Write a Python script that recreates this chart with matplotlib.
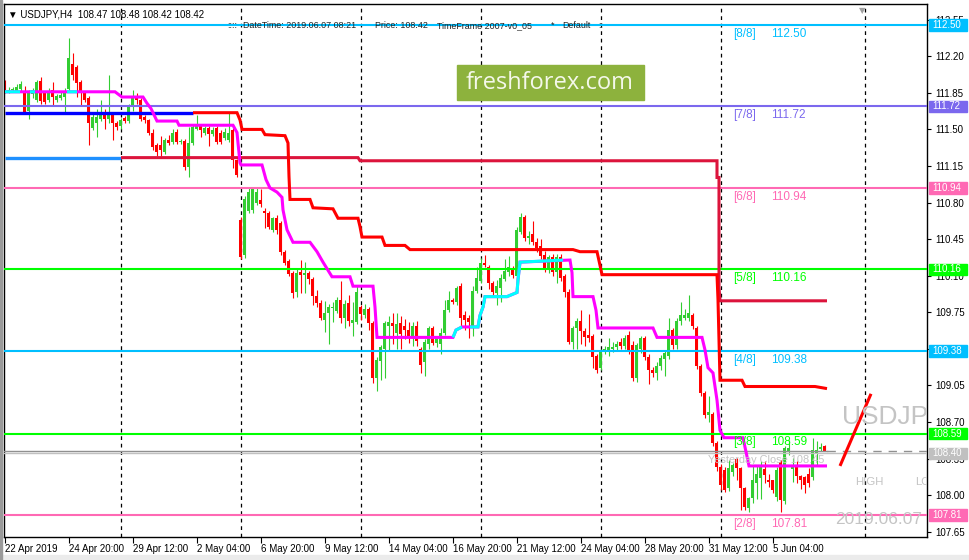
import matplotlib
matplotlib.use("Agg")
import matplotlib.pyplot as plt
from matplotlib.patches import Rectangle
import numpy as np

# USDJPY H4 bars, index 0 = 22 Apr 2019
opens = [111.95, 111.86, 111.88, 111.87, 111.89, 111.86, 111.68, 111.84, 111.78, 111.96,
         111.85, 111.78, 111.88, 111.78, 111.80, 111.81, 111.89, 112.13, 112.10, 111.95,
         111.85, 111.80, 111.51, 111.56, 111.60, 111.67, 111.60, 111.64, 111.56, 111.53,
         111.61, 111.58, 111.71, 111.80, 111.78, 111.62, 111.59, 111.47, 111.35, 111.35,
         111.28, 111.40, 111.38, 111.48, 111.38, 111.39, 111.14, 111.37, 111.50, 111.53,
         111.47, 111.51, 111.46, 111.51, 111.47, 111.42, 111.40, 111.49, 111.21, 110.63,
         110.30, 110.72, 110.73, 110.80, 110.82, 110.72, 110.70, 110.54, 110.65, 110.60,
         110.33, 110.24, 110.13, 109.94, 110.14, 110.11, 110.13, 110.07, 109.91, 109.84,
         109.68, 109.74, 109.79, 109.76, 109.87, 109.70, 109.84, 109.65, 109.66, 109.80,
         109.72, 109.78, 109.65, 109.12, 109.28, 109.40, 109.62, 109.65, 109.55, 109.65,
         109.62, 109.58, 109.52, 109.62, 109.40, 109.27, 109.45, 109.60, 109.46, 109.45,
         109.55, 109.77, 109.87, 109.85, 110.00, 109.72, 109.70, 109.62, 109.95, 110.05,
         110.22, 110.18, 110.03, 109.93, 109.98, 110.07, 110.14, 110.17, 110.10, 110.52,
         110.66, 110.46, 110.50, 110.42, 110.38, 110.30, 110.16, 110.28, 110.14, 110.28,
         110.10, 109.94, 109.47, 109.60, 109.67, 109.57, 109.53, 109.52, 109.33, 109.22,
         109.38, 109.39, 109.40, 109.42, 109.47, 109.43, 109.53, 109.44, 109.12, 109.40,
         109.50, 109.32, 109.20, 109.17, 109.24, 109.30, 109.33, 109.58, 109.44, 109.67,
         109.70, 109.70, 109.72, 109.60, 109.24, 108.98, 108.77, 108.78, 108.50, 108.27,
         108.24, 108.07, 108.22, 108.35, 108.26, 108.07, 107.88, 107.97, 108.12, 108.16,
         108.25, 108.15, 108.15, 107.98, 108.32, 107.94, 108.41, 108.25, 108.27, 108.18,
         108.17, 108.20, 108.17, 108.40, 108.44, 108.47]
highs = [111.97, 111.91, 111.91, 111.93, 111.96, 111.92, 111.88, 111.90, 111.97, 112.00,
         111.86, 111.90, 111.95, 111.84, 111.86, 111.90, 112.37, 112.23, 112.12, 111.97,
         111.87, 111.82, 111.65, 111.70, 111.78, 111.70, 112.02, 111.66, 111.58, 111.61,
         111.63, 111.74, 111.88, 111.85, 111.80, 111.64, 111.60, 111.50, 111.37, 111.44,
         111.42, 111.45, 111.50, 111.50, 111.41, 111.41, 111.52, 111.54, 111.64, 111.55,
         111.53, 111.53, 111.52, 111.53, 111.49, 111.51, 111.67, 111.51, 111.22, 110.66,
         110.86, 110.94, 110.95, 110.95, 110.93, 110.75, 110.72, 110.66, 110.68, 110.62,
         110.35, 110.26, 110.15, 110.16, 110.25, 110.23, 110.15, 110.09, 109.96, 109.87,
         109.86, 109.83, 109.85, 109.90, 110.05, 109.87, 109.92, 109.85, 110.01, 109.82,
         109.83, 109.80, 109.67, 109.32, 109.44, 109.67, 109.71, 109.74, 109.74, 109.71,
         109.69, 109.66, 109.66, 109.67, 109.42, 109.49, 109.62, 109.62, 109.52, 109.60,
         109.87, 109.95, 109.89, 110.00, 110.03, 109.76, 109.72, 110.00, 110.18, 110.27,
         110.30, 110.20, 110.05, 110.06, 110.12, 110.26, 110.29, 110.19, 110.57, 110.70,
         110.68, 110.53, 110.62, 110.46, 110.45, 110.34, 110.30, 110.31, 110.31, 110.31,
         110.12, 109.97, 109.62, 109.70, 109.77, 109.60, 109.73, 109.54, 109.35, 109.40,
         109.43, 109.50, 109.47, 109.48, 109.50, 109.53, 109.57, 109.48, 109.46, 109.52,
         109.52, 109.35, 109.23, 109.27, 109.34, 109.38, 109.70, 109.60, 109.70, 109.85,
         109.78, 109.92, 109.74, 109.62, 109.26, 109.00, 108.95, 108.80, 108.52, 108.30,
         108.27, 108.34, 108.31, 108.36, 108.27, 108.08, 107.98, 108.28, 108.28, 108.33,
         108.33, 108.20, 108.15, 108.27, 108.34, 108.47, 108.53, 108.36, 108.33, 108.19,
         108.18, 108.26, 108.55, 108.52, 108.50, 108.48]
lows = [111.85, 111.85, 111.86, 111.86, 111.87, 111.65, 111.60, 111.80, 111.76, 111.74,
        111.74, 111.76, 111.73, 111.76, 111.78, 111.66, 111.87, 111.97, 111.81, 111.73,
        111.76, 111.35, 111.49, 111.43, 111.58, 111.50, 111.56, 111.40, 111.49, 111.50,
        111.56, 111.56, 111.68, 111.74, 111.58, 111.56, 111.45, 111.30, 111.25, 111.25,
        111.26, 111.35, 111.36, 111.36, 111.36, 111.11, 111.04, 111.35, 111.49, 111.43,
        111.45, 111.34, 111.44, 111.36, 111.36, 111.40, 111.38, 111.13, 111.04, 110.26,
        110.27, 110.70, 110.70, 110.78, 110.76, 110.56, 110.55, 110.52, 110.50, 110.30,
        110.20, 110.10, 109.89, 109.90, 109.93, 109.93, 110.02, 109.82, 109.80, 109.68,
        109.56, 109.45, 109.66, 109.74, 109.65, 109.60, 109.62, 109.52, 109.64, 109.68,
        109.70, 109.58, 109.07, 109.00, 109.10, 109.12, 109.38, 109.45, 109.40, 109.40,
        109.49, 109.46, 109.43, 109.43, 109.17, 109.14, 109.40, 109.44, 109.42, 109.35,
        109.53, 109.75, 109.83, 109.82, 109.60, 109.58, 109.50, 109.52, 109.93, 110.03,
        110.18, 109.97, 109.91, 109.82, 109.85, 110.05, 110.10, 110.08, 110.06, 110.50,
        110.43, 110.40, 110.39, 110.33, 110.26, 110.14, 110.13, 110.10, 110.03, 110.05,
        109.90, 109.45, 109.40, 109.40, 109.45, 109.43, 109.47, 109.22, 109.17, 109.20,
        109.35, 109.33, 109.37, 109.38, 109.40, 109.40, 109.35, 109.09, 109.08, 109.36,
        109.29, 109.06, 109.13, 109.10, 109.20, 109.14, 109.30, 109.40, 109.40, 109.63,
        109.68, 109.67, 109.59, 109.21, 108.95, 108.74, 108.70, 108.47, 108.23, 108.05,
        108.03, 108.04, 108.18, 108.15, 107.86, 107.86, 107.84, 107.93, 107.96, 107.96,
        108.12, 108.08, 108.02, 107.94, 107.84, 107.92, 108.38, 108.13, 108.12, 108.06,
        108.02, 108.08, 108.15, 108.29, 108.42, 108.42]
closes = [111.86, 111.88, 111.89, 111.91, 111.93, 111.67, 111.85, 111.88, 111.95, 111.77,
          111.76, 111.86, 111.81, 111.82, 111.83, 111.87, 112.18, 112.02, 111.94, 111.85,
          111.78, 111.56, 111.62, 111.62, 111.66, 111.60, 111.66, 111.56, 111.52, 111.59,
          111.58, 111.72, 111.80, 111.78, 111.60, 111.59, 111.47, 111.33, 111.28, 111.30,
          111.40, 111.37, 111.47, 111.38, 111.39, 111.14, 111.37, 111.52, 111.53, 111.49,
          111.51, 111.46, 111.49, 111.38, 111.38, 111.48, 111.47, 111.21, 111.06, 110.28,
          110.83, 110.90, 110.93, 110.90, 110.79, 110.70, 110.57, 110.65, 110.54, 110.33,
          110.22, 110.12, 109.93, 110.13, 110.11, 110.13, 110.07, 109.91, 109.84, 109.70,
          109.74, 109.80, 109.80, 109.87, 109.70, 109.83, 109.67, 109.68, 109.94, 109.73,
          109.78, 109.65, 109.12, 109.29, 109.42, 109.65, 109.66, 109.62, 109.64, 109.54,
          109.58, 109.52, 109.62, 109.48, 109.25, 109.47, 109.60, 109.46, 109.50, 109.55,
          109.77, 109.87, 109.85, 109.98, 109.70, 109.68, 109.66, 109.95, 110.08, 110.22,
          110.20, 110.03, 109.94, 110.00, 110.08, 110.15, 110.18, 110.11, 110.54, 110.66,
          110.46, 110.48, 110.42, 110.37, 110.29, 110.17, 110.28, 110.14, 110.28, 110.08,
          109.94, 109.47, 109.60, 109.67, 109.57, 109.51, 109.50, 109.32, 109.20, 109.38,
          109.40, 109.42, 109.42, 109.45, 109.43, 109.50, 109.38, 109.12, 109.44, 109.50,
          109.32, 109.20, 109.17, 109.24, 109.31, 109.36, 109.58, 109.44, 109.67, 109.72,
          109.72, 109.74, 109.62, 109.24, 108.98, 108.77, 108.80, 108.50, 108.27, 108.10,
          108.05, 108.26, 108.29, 108.26, 108.07, 107.89, 107.97, 108.15, 108.20, 108.29,
          108.19, 108.13, 108.05, 108.24, 107.95, 108.45, 108.45, 108.28, 108.18, 108.15,
          108.10, 108.12, 108.43, 108.43, 108.46, 108.42]

time_label_bars = [0, 16, 32, 48, 64, 80, 96, 112, 128, 144, 160, 176, 192]
time_labels = ['22 Apr 2019', '24 Apr 20:00', '29 Apr 12:00', '2 May 04:00', '6 May 20:00',
               '9 May 12:00', '14 May 04:00', '16 May 20:00', '21 May 12:00', '24 May 04:00',
               '28 May 20:00', '31 May 12:00', '5 Jun 04:00']
separator_bars = [29, 59, 89, 119, 149, 179, 215]
price_ticks = [112.55, 112.20, 111.85, 111.50, 111.15, 110.80, 110.45, 110.10,
               109.75, 109.40, 109.05, 108.70, 108.35, 108.00, 107.65]
hidden_ticks = [109.40]  # fully under the 109.38 box

# Murrey math levels
murrey_names = ['[8/8]', '[7/8]', '[6/8]', '[5/8]', '[4/8]', '[3/8]', '[2/8]']
murrey_levels = [112.50, 111.72, 110.94, 110.16, 109.38, 108.59, 107.81]
murrey_colors = ['#00BFFF', '#7B68EE', '#FF69B4', '#00FF00', '#00BFFF', '#00FF00', '#FF69B4']

# trailing line (magenta) and its up-trend parts (cyan)
trail_x = [0, 27.5, 29.25, 34.5, 35.5, 36.5, 37.5, 38, 43, 43.5, 57, 58, 58.25, 58.75, 59,
           64.25, 65.25, 66.25, 68, 69.25, 69.5, 70.5, 72, 76.25, 78, 79.5, 81.75, 86.25, 87,
           92, 92.5, 93, 112, 112.75, 114.25, 118.25, 118.75, 119.5, 120, 125.5, 128, 128.25,
           128.75, 141.25, 141.75, 142, 147, 147.75, 148.25, 162, 163, 174.25, 175, 175.75,
           177, 178, 178.75, 179.75, 184.5, 185, 185.5, 186, 205.5]
trail_y = [111.86, 111.86, 111.81, 111.81, 111.75, 111.70, 111.62, 111.58, 111.58, 111.54,
           111.54, 111.47, 111.37, 111.18, 111.16, 111.16, 111.02, 110.94, 110.90, 110.85,
           110.73, 110.54, 110.42, 110.42, 110.33, 110.23, 110.09, 110.09, 110.00, 110.00,
           109.80, 109.51, 109.51, 109.58, 109.61, 109.61, 109.72, 109.80, 109.90, 109.90,
           109.94, 110.06, 110.23, 110.25, 110.13, 109.90, 109.90, 109.77, 109.60, 109.60,
           109.51, 109.51, 109.39, 109.22, 109.17, 108.91, 108.62, 108.55, 108.55, 108.46,
           108.37, 108.28, 108.28]
trail_up_x = [0, 3.75, np.nan, 6.25, 7.5, np.nan, 15.5, 18, np.nan, 112, 112.75, 114.25, np.nan,
              116.25, 118.25, 118.75, 119.5, 120, 125.5, 128, 128.25, 128.75, 139.5]
trail_up_y = [111.86, 111.86, np.nan, 111.86, 111.86, np.nan, 111.86, 111.86, np.nan,
              109.51, 109.58, 109.61, np.nan, 109.61, 109.61, 109.72, 109.80, 109.90, 109.90,
              109.94, 110.06, 110.23, 110.25]

# stop lines
stop_x = [47, 58, 58.75, 59.25, 64.25, 65, 70, 70.75, 71, 71.25, 76.25, 77, 82, 83.25, 88.25,
          88.75, 89.25, 94.25, 95, 100, 101.25, 142, 143.75, 148, 148.75, 149.25, 178, 178.25,
          178.75, 184.25, 185, 202.5, 205.5]
stop_y = [111.66, 111.66, 111.59, 111.50, 111.50, 111.45, 111.44, 111.37, 111.05, 110.83,
          110.83, 110.75, 110.74, 110.65, 110.65, 110.57, 110.47, 110.47, 110.39, 110.39,
          110.35, 110.35, 110.33, 110.33, 110.20, 110.11, 110.11, 109.87, 109.10, 109.10,
          109.04, 109.04, 109.02]
stop2_x = [29, 88.25, 88.75, 178, 178, 178.5, 178.5, 178.75, 205.5]
stop2_y = [111.23, 111.23, 111.20, 111.20, 111.04, 111.04, 109.99, 109.86, 109.86]
blue_x, blue_y = [0, 47], [111.66, 111.66]
dblue_x, dblue_y = [0, 29], [111.23, 111.23]

# manual trend line and bid / yesterday close
trend_x, trend_y = [208.75, 216.5], [108.28, 108.97]
bid_price = 108.42
yclose_price = 108.40
last_bar = 205.5

fig = plt.figure(figsize=(9.7, 5.6), dpi=100, facecolor='white')
ax = fig.add_axes([4 / 970, 23 / 560, 923 / 970, 533 / 560])
ax.set_xlim(-0.25, 230.5)
ax.set_ylim(107.60, 112.70)

# candles
o, h, l, c = map(np.array, (opens, highs, lows, closes))
x = np.arange(len(o))
up = c >= o
green, red = '#32CD32', '#FF0000'
cols = np.where(up, green, red)
ax.vlines(x, l, h, colors=cols, lw=0.8, zorder=2)
body_low = np.minimum(o, c)
body_h = np.maximum(np.abs(c - o), 0.01)
ax.bar(x, body_h, bottom=body_low, width=0.75, color=cols, linewidth=0, zorder=2)

# period separators
for sb in separator_bars:
    ax.axvline(sb, color='black', lw=0.9, ls=(0, (3, 3)), zorder=1)

# murrey levels
for name, lev, col in zip(murrey_names, murrey_levels, murrey_colors):
    ax.axhline(lev, color=col, lw=1.5, zorder=3)
    ax.text(182, lev - 0.025, name, color=col, fontsize=8.5, family='Liberation Sans',
            va='top', ha='left', zorder=6)
    ax.text(191.5, lev - 0.025, f'{lev:.2f}', color=col, fontsize=8.5,
            family='Liberation Sans', va='top', ha='left', zorder=6)

# bid and yesterday-close lines
ax.axhline(yclose_price, color='#C0C0C0', lw=1, zorder=3)
ax.plot([-0.25, last_bar], [bid_price, bid_price], color='#909090', lw=1, zorder=3)
ax.plot([last_bar, 230.5], [bid_price, bid_price], color='#909090', lw=1,
        ls=(0, (6, 5)), zorder=3)

# indicator lines
lk = dict(solid_capstyle='butt', solid_joinstyle='miter', zorder=4)
ax.plot(dblue_x, dblue_y, color='#1E90FF', lw=2.4, **lk)
ax.plot(blue_x, blue_y, color='#0000FF', lw=2.4, **lk)
ax.plot(stop2_x, stop2_y, color='#DC143C', lw=2.2, **lk)
ax.plot(stop_x, stop_y, color='#FF0000', lw=2.2, **lk)
ax.plot(trail_x, trail_y, color='#FF00FF', lw=2.2, **lk)
ax.plot(trail_up_x, trail_up_y, color='#00FFFF', lw=2.2, **lk)
ax.plot(trend_x, trend_y, color='#FF0000', lw=2.2, solid_capstyle='butt', zorder=4)

# info texts on chart (cut by the price scale like in the terminal)
gray = '#C4C4C4'
ax.text(175.75, 108.34, 'Yesterday Close 108.45', color=gray, fontsize=7.9,
        family='Liberation Sans', va='center', zorder=5)
ax.text(209.25, 108.745, 'USDJP', color=gray, fontsize=19, family='Liberation Sans',
        va='center', clip_on=True, zorder=5)
ax.text(212.5, 108.13, 'HIGH', color=gray, fontsize=8.2, family='Liberation Sans',
        va='center', clip_on=True, zorder=5)
ax.text(227.5, 108.13, 'LO', color=gray, fontsize=8.2, family='Liberation Sans',
        va='center', clip_on=True, zorder=5)
ax.text(207.5, 107.765, '2019.06.07', color=gray, fontsize=12.5,
        family='Liberation Sans', va='center', clip_on=True, zorder=5)

# header
ax.text(0.0043, 0.981, '\u25bc USDJPY,H4  108.47 108.48 108.42 108.42', transform=ax.transAxes,
        fontsize=7, family='Liberation Sans', va='center', ha='left', zorder=6)
ax.text(0.9296, 0.997, '\u25bc', transform=ax.transAxes, fontsize=6, color='#A0A0A0',
        va='top', ha='center', zorder=6)
yt = ax.get_yaxis_transform()
hdr = [(227, '::::'), (243, 'DateTime: 2019.06.07 08:21'), (375, 'Price: 108.42'),
       (437, 'TimeFrame 2007-v0_05'), (551, '*'), (562, 'Default'), (598, '::')]
for px, s in hdr:
    ax.text((px - 4) / 923, murrey_levels[0] - 0.005, s, transform=yt, fontsize=6.4,
            family='Liberation Sans', color='#202020', va='center', ha='left', zorder=6)

# logo
ax.add_patch(Rectangle(((457 - 4) / 923, 1 - (100 - 4) / 533), 187 / 923, 35 / 533,
                       transform=ax.transAxes, color='#8DB23D', zorder=6))
ax.text((550 - 4) / 923, 1 - (83 - 4) / 533, 'freshforex.com', transform=ax.transAxes,
        fontsize=17, family='Open Sans', color='#F4F8EA', ha='center', va='center', zorder=7)

# axes styling
for s in ax.spines.values():
    s.set_color('black')
    s.set_linewidth(1)
ax.yaxis.tick_right()
ax.set_yticks(price_ticks)
ax.set_yticklabels(['' if p in hidden_ticks else f'{p:.2f}' for p in price_ticks])
ax.tick_params(axis='y', direction='out', length=3, pad=3, labelsize=7, width=0.8)
ax.set_xticks(time_label_bars)
ax.set_xticklabels(time_labels)
ax.tick_params(axis='x', direction='out', length=4, pad=1, labelsize=7, width=0.8)
for t in ax.get_xticklabels() + ax.get_yticklabels():
    t.set_family('Liberation Sans')
for t in ax.get_xticklabels():
    t.set_ha('left')

# price boxes on the right scale
box_levels = murrey_levels + [yclose_price]
box_colors = murrey_colors + ['#C0C0C0']
for lev, col in zip(box_levels, box_colors):
    ax.add_patch(Rectangle(((929 - 4) / 923, lev - 0.055), 38 / 923, 0.11, transform=yt,
                           color=col, clip_on=False, zorder=8))
    ax.text((932 - 4) / 923, lev, f'{lev:.2f}', transform=yt, color='white', fontsize=7,
            family='Liberation Sans', va='center', ha='left', clip_on=False, zorder=9)

# window border bits
fig.patches.append(Rectangle((0, 0), 1, 5 / 560, transform=fig.transFigure,
                             color='#EBEBEB', zorder=0))
fig.patches.append(Rectangle((0, 0), 2 / 970, 1, transform=fig.transFigure,
                             color='#9A9A9A', zorder=0))

fig.savefig('out.png', dpi=100, facecolor='white')
